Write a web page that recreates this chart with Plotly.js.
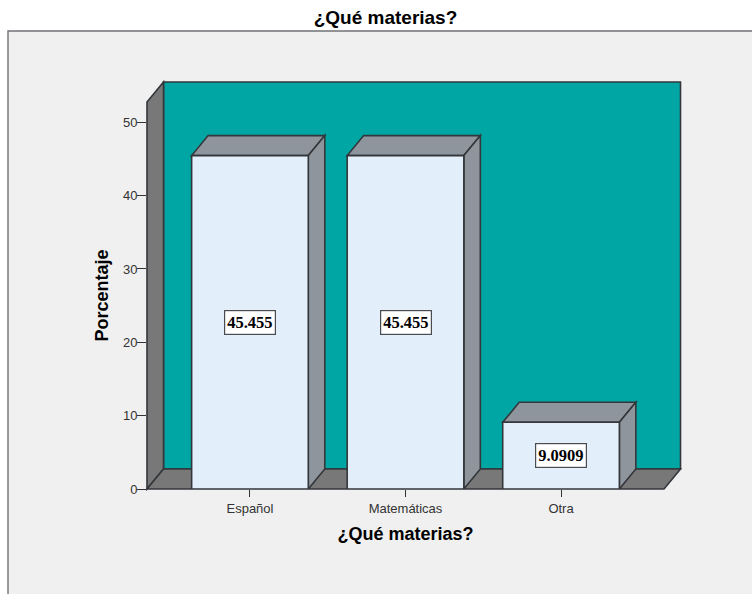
<!DOCTYPE html>
<html><head><meta charset="utf-8">
<script src="https://cdn.plot.ly/plotly-3.0.1.min.js"></script>
<style>html,body{margin:0;padding:0;background:#fff}#c{width:752px;height:594px}</style></head>
<body><div id="c"></div>
<script>
const categories = ['Español', 'Matemáticas', 'Otra'];
const percentages = [45.455, 45.455, 9.0909];
const valueLabels = ['45.455', '45.455', '9.0909'];
const yTicks = [0, 10, 20, 30, 40, 50];

// plot area is the front plane of the 3D box; walls are offset behind it
const L = 147, R = 664, T = 102, B = 489;
const xMin = -0.662, xMax = 2.662, yMax = 52.76;
const dxPx = 16.5, dyPx = 20, barW = 0.75;
const dx = dxPx * (xMax - xMin) / (R - L), dy = dyPx * yMax / (B - T);
const edge = '#33363a';
const poly = (pts, fill, ref) => ({
  type: 'path', layer: 'below', xref: ref, yref: ref === 'x' ? 'y' : ref, fillcolor: fill,
  line: {color: edge, width: 1.6},
  path: 'M' + pts.map(p => p[0] + ',' + p[1]).join('L') + 'Z'
});
const px = v => (v - L) / (R - L);
const py = v => (B - v) / (B - T);
const ox = dxPx / (R - L), oy = dyPx / (B - T);

const shapes = [
  {type: 'rect', layer: 'below', xref: 'paper', yref: 'paper', x0: px(8), x1: px(760), y0: py(600), y1: py(31),
   fillcolor: '#f0f0f0', line: {color: '#6f7275', width: 1.4}},
  poly([[ox, oy], [1 + ox, oy], [1 + ox, 1 + oy], [ox, 1 + oy]], '#00a6a4', 'paper'),
  poly([[0, 0], [ox, oy], [ox, 1 + oy], [0, 1]], '#787878', 'paper'),
  poly([[0, 0], [1, 0], [1 + ox, oy], [ox, oy]], '#787878', 'paper')
];
percentages.forEach((v, i) => {
  const a = i - barW / 2, b = i + barW / 2;
  shapes.push(poly([[a, v], [b, v], [b + dx, v + dy], [a + dx, v + dy]], '#8e959d', 'x'));
  shapes.push(poly([[b, 0], [b + dx, dy], [b + dx, v + dy], [b, v]], '#8e959d', 'x'));
});

const annotations = percentages.map((v, i) => ({
  x: i, y: v / 2, xref: 'x', yref: 'y', text: valueLabels[i], showarrow: false,
  font: {family: 'Liberation Serif', size: 16.5, color: '#000', weight: 700},
  bgcolor: '#fff', bordercolor: '#4a4d50', borderwidth: 1.2, borderpad: 2
}));

Plotly.newPlot('c', [{
  type: 'bar', x: [0, 1, 2], y: percentages, width: barW, hoverinfo: 'skip',
  marker: {color: '#e3eefb', line: {color: edge, width: 1.6}}
}], {
  width: 752, height: 594, showlegend: false, bargap: 0,
  margin: {l: L, r: 752 - R, t: T, b: 594 - B, pad: 0},
  paper_bgcolor: '#fff', plot_bgcolor: 'rgba(0,0,0,0)',
  font: {family: 'Liberation Sans', color: '#222'},
  title: {text: '¿Qué materias?', x: 385.5 / 752, xanchor: 'center', y: 1 - 17 / 594, yanchor: 'middle',
          font: {family: 'Liberation Sans', size: 19, color: '#000', weight: 700}},
  xaxis: {range: [xMin, xMax], tickmode: 'array', tickvals: [0, 1, 2], ticktext: categories,
          ticks: 'outside', ticklen: 7, tickwidth: 1, tickcolor: '#333', showgrid: false, zeroline: false,
          showline: false, tickfont: {size: 13, color: '#333'},
          title: {text: '¿Qué materias?', standoff: 12, font: {size: 18, color: '#000', weight: 700}}},
  yaxis: {range: [0, yMax], tickmode: 'array', tickvals: yTicks, ticks: 'outside', ticklen: 9, tickwidth: 1,
          ticklabelstandoff: -3,
          tickcolor: '#333', showgrid: false, zeroline: false, showline: false, tickfont: {size: 13, color: '#333'},
          title: {text: 'Porcentaje', standoff: 9, font: {size: 18, color: '#000', weight: 700}}},
  shapes, annotations
}, {displayModeBar: false, staticPlot: true});
</script></body></html>
